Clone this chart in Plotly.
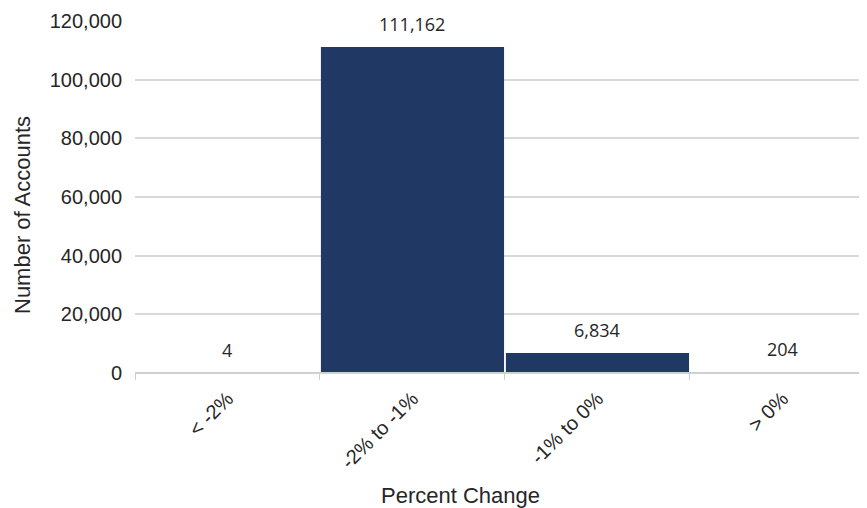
import plotly.graph_objects as go

categories = ["< -2%", "-2% to -1%", "-1% to 0%", "> 0%"]
accounts = [4, 111162, 6834, 204]
y_ticks = [0, 20000, 40000, 60000, 80000, 100000, 120000]

bar_color = "#1f3864"
text_color = "#262626"
axis_color = "#d0d0d0"

# page body has an 8px margin; plot area in window px: x 135..867, y 21..373
PL, PR, PT, PB = 135, 867, 21, 373

fig = go.Figure()
fig.add_trace(go.Bar(
    x=categories, y=accounts,
    marker=dict(color=bar_color, line=dict(width=0)),
    hoverinfo="skip",
))

for c, v in zip(categories, accounts):
    fig.add_annotation(
        x=c, y=v, text=f"{v:,}", showarrow=False,
        yanchor="bottom", yshift=9,
        font=dict(family="Open Sans", size=18, color=text_color),
    )

fig.add_annotation(
    xref="paper", yref="paper", x=(460 - PL) / (PR - PL), y=-(495 - PB) / (PB - PT),
    text="Percent Change", showarrow=False, xanchor="center", yanchor="middle",
    font=dict(family="Liberation Sans", size=22, color=text_color),
)
fig.add_annotation(
    xref="paper", yref="paper", x=-(PL - 22) / (PR - PL), y=(PB - 215) / (PB - PT),
    text="Number of Accounts", showarrow=False, xanchor="center", yanchor="middle",
    textangle=-90,
    font=dict(family="Liberation Sans", size=22, color=text_color),
)

# baseline drawn above the bars (covers the 1px minimum-height stubs of tiny bars)
fig.add_shape(type="line", xref="paper", yref="y", x0=0, x1=1, y0=0, y1=0,
              line=dict(color=axis_color, width=2), layer="above")

fig.update_layout(
    width=859, height=500,
    margin=dict(l=PL - 8, r=0, t=PT - 8, b=508 - PB),
    plot_bgcolor="white", paper_bgcolor="white",
    bargap=0.01, showlegend=False,
    font=dict(family="Liberation Sans", color=text_color),
)
fig.update_xaxes(
    type="category", range=[-0.5, 3.457],
    showline=True, linecolor=axis_color, linewidth=1, layer="above traces",
    ticks="outside", tickson="boundaries", ticklen=6, tickcolor=axis_color,
    tickangle=-45, tickfont=dict(size=20, family="Liberation Sans", color=text_color),
    ticklabelstandoff=5, showgrid=False,
)
fig.update_yaxes(
    range=[0, 120000], tickvals=y_ticks, tickformat=",",
    showgrid=True, gridcolor="#d9d9d9", gridwidth=1.5,
    zeroline=False, showline=False,
    tickfont=dict(size=20, family="Liberation Sans", color=text_color),
    ticklabelstandoff=12,
)

fig.write_html("out.html")
